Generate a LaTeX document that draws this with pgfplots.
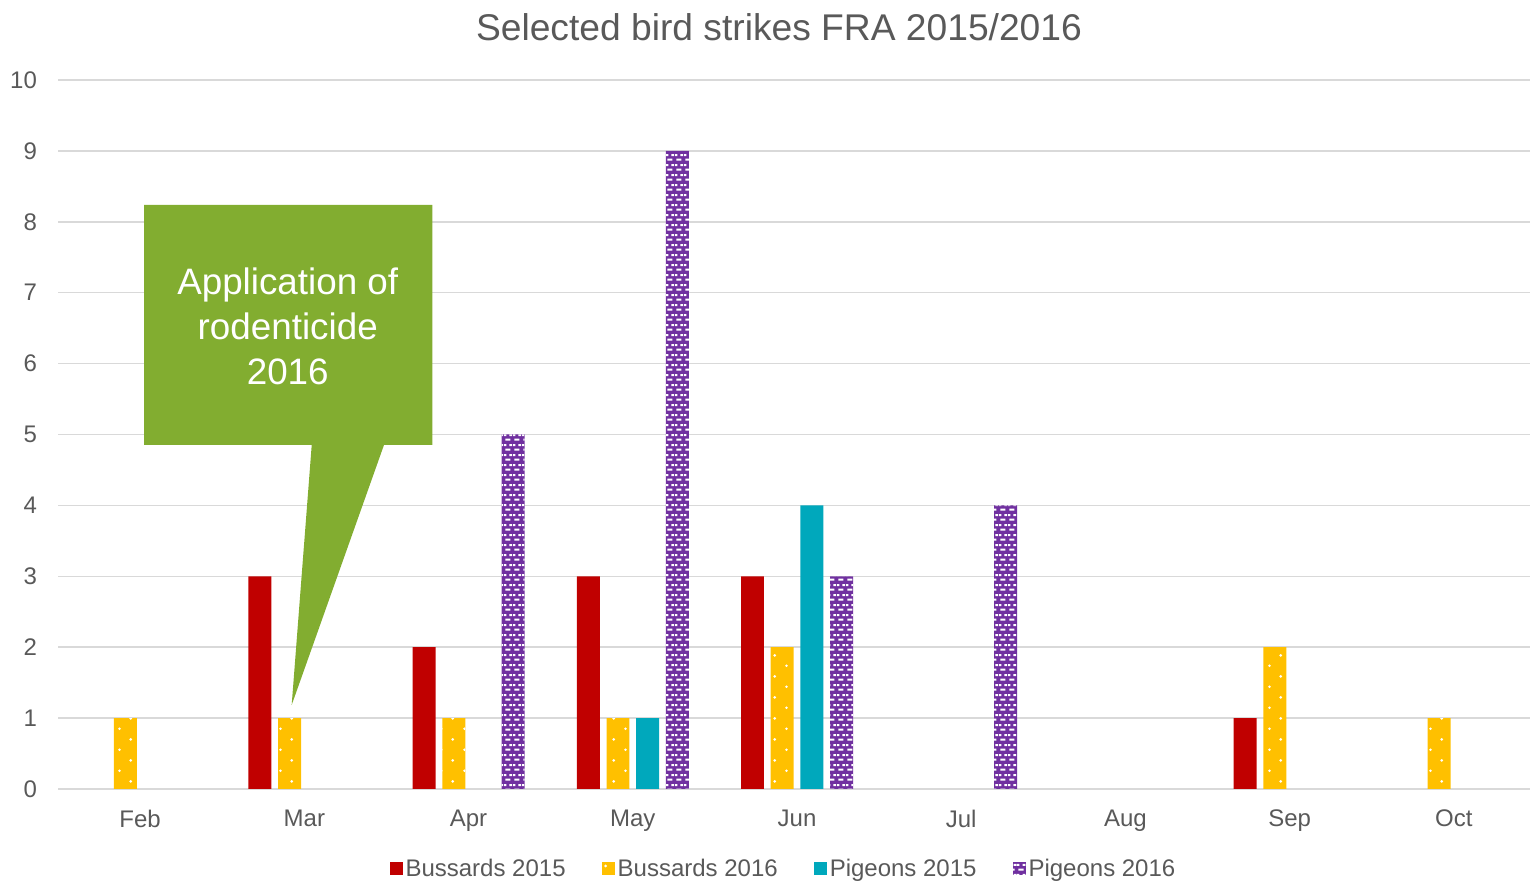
\documentclass[border=0pt]{standalone}
\usepackage{pgfplots}
\pgfplotsset{compat=1.18}
\usepackage{fontspec}
\setmainfont{Liberation Sans}
\usetikzlibrary{patterns}
\definecolor{cred}{HTML}{C00000}
\definecolor{cyellow}{HTML}{FFC000}
\definecolor{cteal}{HTML}{00A8BC}
\definecolor{cpurple}{HTML}{7030A0}
\definecolor{cgreen}{HTML}{82AD30}
\definecolor{textgray}{HTML}{595959}
\definecolor{gridgray}{HTML}{D9D9D9}
\pgfdeclarepatternformonly{mysparsedots}{\pgfpointorigin}{\pgfpoint{11.3pt}{10.7pt}}{\pgfpoint{11.3pt}{10.7pt}}{%
  \pgfpathcircle{\pgfpoint{3.3pt}{2.7pt}}{0.75pt}%
  \pgfpathcircle{\pgfpoint{9pt}{8pt}}{0.75pt}%
  \pgfusepath{fill}}
\pgfdeclarepatternformonly{mybrickdash}{\pgfpointorigin}{\pgfpoint{4.5pt}{5pt}}{\pgfpoint{4.5pt}{5pt}}{%
  \pgfpathrectangle{\pgfpoint{0.75pt}{0.7pt}}{\pgfpoint{2.75pt}{1.1pt}}%
  \pgfpathrectangle{\pgfpoint{0pt}{3.2pt}}{\pgfpoint{1.25pt}{1.1pt}}%
  \pgfpathrectangle{\pgfpoint{3pt}{3.2pt}}{\pgfpoint{1.5pt}{1.1pt}}%
  \pgfusepath{fill}}
\begin{document}
\begin{tikzpicture}
\useasboundingbox (-29pt,-46.5pt) rectangle (736pt,394.5pt);
\begin{axis}[
  at={(0,0)}, anchor=south west,
  scale only axis, width=739pt, height=354.5pt,
  clip=false,
  xmin=-0.5, xmax=8.5, ymin=0, ymax=10,
  xtick={0,...,8},
  xticklabels={Feb,Mar,Apr,May,Jun,Jul,Aug,Sep,Oct},
  ytick={0,...,10},
  /pgf/number format/assume math mode=true,
  ymajorgrids, grid style={color=gridgray, line width=0.75pt},
  axis line style={draw=none}, major tick length=0pt,
  tick label style={font=\fontsize{12}{14}\selectfont, color=textgray},
  xticklabel style={yshift=-7pt},
  yticklabel style={xshift=-7pt},
  ybar, bar width=0.14,
  legend image code/.code={\fill[#1] (0pt,-3.25pt) rectangle (6.5pt,3.25pt);},
  legend style={at={(0.4915,-0.1128)}, anchor=center, draw=none, fill=none,
    legend columns=4, font=\fontsize{12}{14}\selectfont, text=textgray,
    /tikz/every even column/.append style={column sep=16pt},
    /tikz/every odd column/.append style={column sep=-0.5pt}},
]
\addplot[bar shift=-0.271, fill=cred, draw=none] coordinates {(1,3) (2,2) (3,3) (4,3) (7,1)};
\addlegendentry{Bussards 2015}
\addplot[bar shift=-0.09, fill=cyellow, draw=none, postaction={pattern=mysparsedots, pattern color=white}] coordinates {(0,1) (1,1) (2,1) (3,1) (4,2) (7,2) (8,1)};
\addlegendentry{Bussards 2016}
\addplot[bar shift=0.09, fill=cteal, draw=none] coordinates {(3,1) (4,4)};
\addlegendentry{Pigeons 2015}
\addplot[bar shift=0.271, fill=cpurple, draw=none, postaction={pattern=mybrickdash, pattern color=white}] coordinates {(2,5) (3,9) (4,3) (5,4)};
\addlegendentry{Pigeons 2016}
\fill[cgreen] (axis cs:0.024,4.852) -- (axis cs:1.045,4.852) -- (axis cs:0.923,1.185) -- (axis cs:1.485,4.852) -- (axis cs:1.779,4.852) -- (axis cs:1.779,8.237) -- (axis cs:0.024,8.237) -- cycle;
\node[align=center, text=white, font=\fontsize{18.4}{22.5}\selectfont] at (axis cs:0.899,6.53) {Application of\\rodenticide\\2016};
\node[text=textgray, font=\fontsize{18.6}{22}\selectfont] at (rel axis cs:0.4878,1.0747) {Selected bird strikes FRA 2015/2016};
\end{axis}
\end{tikzpicture}
\end{document}
